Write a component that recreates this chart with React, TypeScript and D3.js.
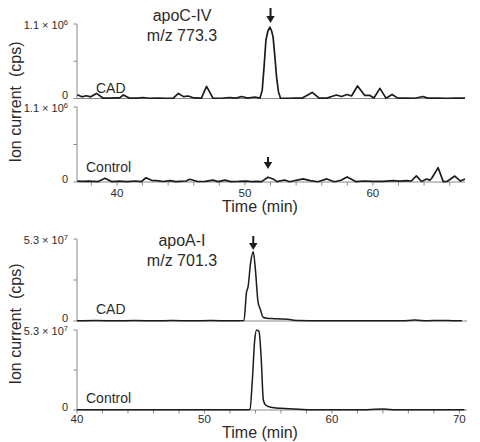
import React from "react";
import * as d3 from "d3";

// ---------- data ----------
// apoC-IV (m/z 773.3)
const apoC4CadTime = [36.9, 37.25, 37.6, 37.95, 38.4, 38.9, 39.4, 39.9, 40.2, 40.5, 41.0, 41.6, 42.05, 42.5, 43.2, 43.9, 44.4, 44.8, 45.2, 45.57, 46.0, 46.6, 47.0, 47.5, 48.2, 48.8, 49.3, 49.74, 50.2, 50.78, 51.17, 51.35, 51.5, 51.64, 51.8, 51.95, 52.08, 52.2, 52.35, 52.47, 52.62, 52.78, 53.3, 53.9, 54.45, 55.26, 55.8, 56.4, 56.9, 57.16, 57.55, 57.99, 58.33, 58.8, 59.37, 59.77, 60.08, 60.55, 61.02, 61.5, 61.95, 62.6, 63.3, 63.9, 64.3, 65.0, 65.8, 66.5, 67.2];
const apoC4CadCps = [55000, 25000, 40000, 25000, 75000, 7000, 5000, 8000, 10000, 52000, 5000, 5000, 15000, 4000, 5000, 4000, 6000, 75000, 28000, 37000, 8000, 5000, 178000, 5000, 4000, 15000, 5000, 30000, 6000, 22000, 5000, 120000, 480000, 860000, 1000000, 1055000, 1000000, 910000, 600000, 320000, 100000, 5000, 4000, 6000, 5000, 90000, 5000, 6000, 37000, 52000, 30000, 60000, 37000, 185000, 45000, 45000, 7000, 150000, 5000, 60000, 5000, 5000, 4000, 30000, 5000, 5000, 4000, 5000, 5000];

const apoC4CtlTime = [36.9, 37.3, 37.8, 38.5, 39.06, 39.6, 40.2, 40.8, 41.4, 41.9, 42.27, 42.7, 43.1, 43.6, 44.14, 44.6, 44.9, 45.4, 45.7, 46.3, 46.9, 47.5, 47.9, 48.44, 48.9, 49.5, 50.1, 50.5, 50.9, 51.3, 51.8, 52.2, 52.5, 53.1, 53.5, 54.0, 54.55, 55.1, 55.7, 56.4, 57.0, 57.5, 57.99, 58.7, 59.3, 60.0, 60.8, 61.6, 62.1, 62.6, 63.0, 63.4, 63.8, 64.2, 64.45, 64.6, 65.1, 65.5, 65.8, 66.4, 66.85, 67.2];
const apoC4CtlCps = [14000, 8000, 12000, 5000, 55000, 5000, 12000, 6000, 15000, 5000, 62000, 25000, 20000, 7000, 20000, 5000, 8000, 15000, 40000, 7000, 8000, 28000, 6000, 28000, 6000, 8000, 14000, 5000, 8000, 5000, 70000, 45000, 5000, 29000, 4000, 25000, 45000, 20000, 4000, 45000, 4000, 25000, 75000, 5000, 15000, 8000, 10000, 20000, 12000, 20000, 15000, 90000, 8000, 45000, 28000, 55000, 210000, 5000, 8000, 87000, 14000, 45000];

// apoA-I (m/z 701.3)
const apoA1CadTime = [40.0, 41.5, 43.0, 44.5, 46.0, 47.5, 49.0, 50.5, 52.0, 53.1, 53.3, 53.42, 53.62, 53.83, 54.0, 54.2, 54.4, 54.6, 54.9, 55.46, 56.0, 56.5, 57.4, 58.5, 60.0, 62.0, 64.0, 65.5, 66.5, 67.5, 68.5, 69.5, 70.2];
const apoA1CadCps = [150000, 300000, 100000, 250000, 150000, 300000, 100000, 250000, 150000, 300000, 18700000, 22000000, 37500000, 44700000, 33000000, 12500000, 7100000, 2400000, 1750000, 1500000, 1300000, 1100000, 300000, 200000, 150000, 100000, 200000, 150000, 600000, 200000, 400000, 200000, 100000];

const apoA1CtlTime = [40.0, 42.0, 44.0, 46.0, 48.0, 50.0, 52.0, 53.4, 53.57, 53.76, 53.94, 54.1, 54.28, 54.46, 54.62, 54.8, 55.2, 56.0, 57.0, 58.3, 60.0, 62.0, 64.1, 65.0, 67.0, 68.5, 70.4];
const apoA1CtlCps = [100000, 200000, 100000, 200000, 100000, 200000, 100000, 100000, 500000, 20000000, 46000000, 53000000, 52000000, 33000000, 6600000, 3300000, 1800000, 1100000, 700000, 200000, 150000, 100000, 600000, 100000, 200000, 100000, 100000];

const apoC4Arrows = [52.0, 51.8]; // CAD, Control
const apoA1Arrows = [53.83];

const topXTicks = [38, 40, 42, 44, 46, 48, 50, 52, 54, 56, 58, 60, 62, 64, 66];
const topXLabels = [40, 50, 60];
const botXTicks = [40, 42, 44, 46, 48, 50, 52, 54, 56, 58, 60, 62, 64, 66, 68, 70];
const botXLabels = [40, 50, 60, 70];

const apoC4Max = 1.1e6;
const apoA1Max = 5.3e7;

// ---------- style ----------
const FONT = "'Liberation Sans', Arial, Helvetica, sans-serif";
const TXT = "#2b2b2b";
const AXIS = "#8a8a8a";
const LINE = "#1c1c1c";

type Pt = [number, number];
const zip = (t: number[], v: number[]): Pt[] => t.map((x, i) => [x, v[i]]);

function YAxis({ y, mant, exp, x0 }: { y: d3.ScaleLinear<number, number>; mant: string; exp: string; x0: number }) {
  const [d0, d1] = y.domain();
  const ticks = [d0, (d0 + d1) / 2, d1];
  return (
    <g>
      <line x1={x0} x2={x0} y1={y(d1)} y2={y(d0)} stroke={AXIS} strokeWidth={1} />
      {ticks.map((t, i) => (
        <line key={i} x1={x0 - 3.5} x2={x0} y1={y(t)} y2={y(t)} stroke={AXIS} strokeWidth={1} />
      ))}
      <text x={x0 - 9} y={y(d1) + 5} textAnchor="end" fontFamily={FONT} fontSize={11} fill={TXT}>
        {mant} × 10
        <tspan dy={-4.5} fontSize={7.5}>{exp}</tspan>
      </text>
      <text x={x0 - 9} y={y(d0) + 0.5} textAnchor="end" fontFamily={FONT} fontSize={11} fill={TXT}>0</text>
    </g>
  );
}

function Arrow({ x, y1, y2 }: { x: number; y1: number; y2: number }) {
  const h = 7;
  return (
    <g>
      <line x1={x} x2={x} y1={y1} y2={y2 - h + 1} stroke={LINE} strokeWidth={2} />
      <path d={`M${x - 4.2},${y2 - h} L${x + 4.2},${y2 - h} L${x},${y2} Z`} fill={LINE} />
    </g>
  );
}

function Chart({
  x, yA, yB, dataA, dataB, xTicks, xLabels, arrowsX, arrowY, title1, title2, mant, exp,
  curve, labelY, xLabelY, titleY, yTitleCenter, lw,
}: any) {
  const [xs0, xs1] = x.range();
  const lineA = d3.line<Pt>().x((d) => x(d[0])).y((d) => yA(d[1])).curve(curve);
  const lineB = d3.line<Pt>().x((d) => x(d[0])).y((d) => yB(d[1])).curve(curve);
  const y0B = yB(0);
  return (
    <g>
      {/* axes */}
      <YAxis y={yA} mant={mant} exp={exp} x0={xs0} />
      <YAxis y={yB} mant={mant} exp={exp} x0={xs0} />
      <line x1={xs0} x2={xs1} y1={yA(0)} y2={yA(0)} stroke={AXIS} strokeWidth={1} />
      <line x1={xs0} x2={xs1} y1={y0B} y2={y0B} stroke={AXIS} strokeWidth={1} />
      {xTicks.map((t: number) => (
        <line key={t} x1={x(t)} x2={x(t)} y1={y0B} y2={y0B + 3.5} stroke={AXIS} strokeWidth={1} />
      ))}
      {xLabels.map((t: number) => (
        <text key={t} x={x(t)} y={xLabelY} textAnchor="middle" fontFamily={FONT} fontSize={11.5} fill={TXT}>{t}</text>
      ))}
      <text x={260} y={xLabelY + 15} textAnchor="middle" fontFamily={FONT} fontSize={16} fill={TXT}>Time (min)</text>
      <text transform={`translate(21,${yTitleCenter}) rotate(-90)`} textAnchor="middle" fontFamily={FONT} fontSize={16} fill={TXT} xmlSpace="preserve">Ion current  (cps)</text>
      {/* traces */}
      <path d={lineA(dataA) || ""} fill="none" stroke={LINE} strokeWidth={lw} strokeLinejoin="round" />
      <path d={lineB(dataB) || ""} fill="none" stroke={LINE} strokeWidth={lw} strokeLinejoin="round" />
      {/* labels */}
      <text x={96} y={labelY[0]} fontFamily={FONT} fontSize={14} fill={TXT}>CAD</text>
      <text x={86} y={labelY[1]} fontFamily={FONT} fontSize={14} fill={TXT}>Control</text>
      <text x={182} y={titleY} textAnchor="middle" fontFamily={FONT} fontSize={16} fill={TXT}>{title1}</text>
      <text x={182} y={titleY + 19.5} textAnchor="middle" fontFamily={FONT} fontSize={16} fill={TXT}>{title2}</text>
      {arrowsX.map((t: number, i: number) => (
        <Arrow key={i} x={x(t)} y1={arrowY[i][0]} y2={arrowY[i][1]} />
      ))}
    </g>
  );
}

export default function App() {
  const xTop = d3.scaleLinear().domain([36.875, 67.2]).range([77, 465]);
  const yTopA = d3.scaleLinear().domain([0, apoC4Max]).range([98.5, 24]);
  const yTopB = d3.scaleLinear().domain([0, apoC4Max]).range([182, 107]);

  const xBot = d3.scaleLinear().domain([40, 70.6]).range([77, 467]);
  const yBotA = d3.scaleLinear().domain([0, apoA1Max]).range([321, 239]);
  const yBotB = d3.scaleLinear().domain([0, apoA1Max]).range([410, 330]);

  return (
    <svg width={480} height={442} style={{ position: "absolute", left: 0, top: 0, background: "#fff" }}>
      <rect width={480} height={442} fill="#fff" />
      <Chart
        x={xTop} yA={yTopA} yB={yTopB}
        dataA={zip(apoC4CadTime, apoC4CadCps)} dataB={zip(apoC4CtlTime, apoC4CtlCps)}
        xTicks={topXTicks} xLabels={topXLabels}
        arrowsX={apoC4Arrows} arrowY={[[8, 23], [157, 169]]}
        title1="apoC-IV" title2="m/z 773.3" mant="1.1" exp="6"
        curve={d3.curveLinear} labelY={[93, 172]} xLabelY={197} titleY={21} yTitleCenter={102} lw={1.7}
      />
      <Chart
        x={xBot} yA={yBotA} yB={yBotB}
        dataA={zip(apoA1CadTime, apoA1CadCps)} dataB={zip(apoA1CtlTime, apoA1CtlCps)}
        xTicks={botXTicks} xLabels={botXLabels}
        arrowsX={apoA1Arrows} arrowY={[[236, 250]]}
        title1="apoA-I" title2="m/z 701.3" mant="5.3" exp="7"
        curve={d3.curveMonotoneX} labelY={[314, 403]} xLabelY={423} titleY={246} yTitleCenter={324} lw={1.5}
      />
    </svg>
  );
}
